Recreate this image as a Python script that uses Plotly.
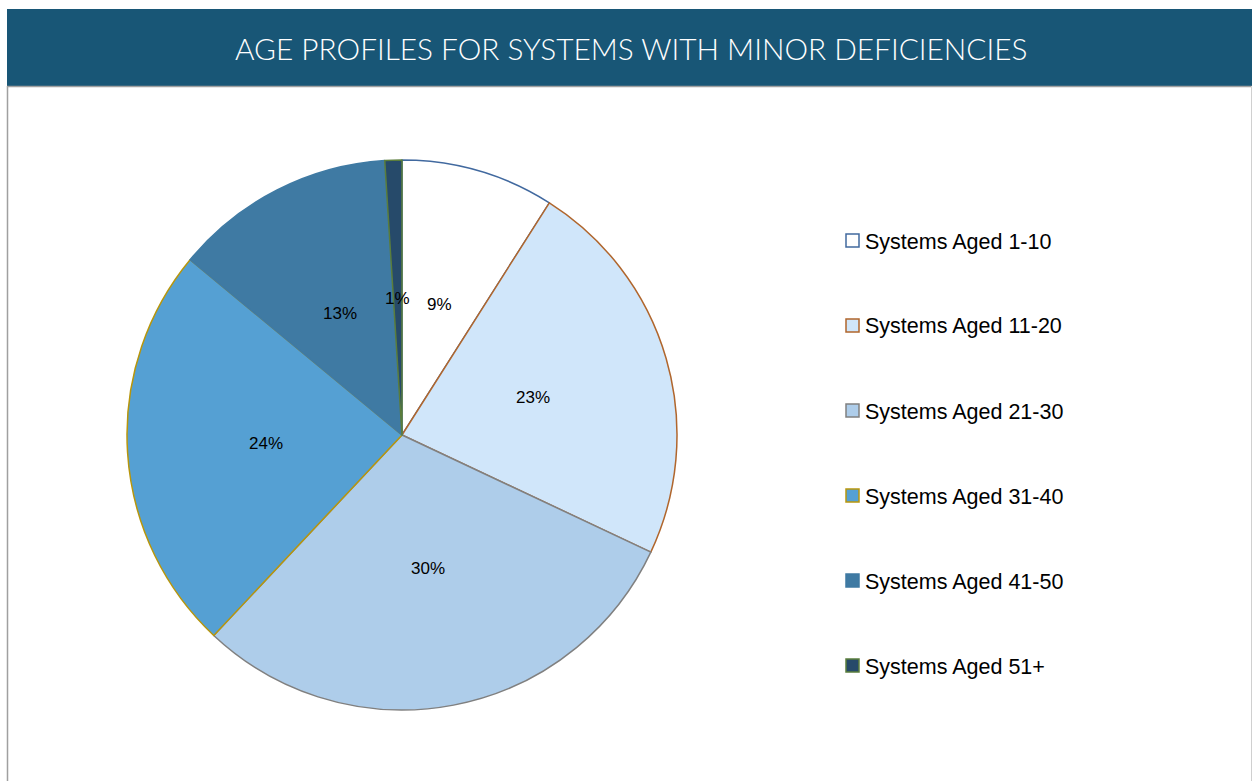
import math
import plotly.graph_objects as go

W, H = 1252, 781

# Data
categories = ["Systems Aged 1-10", "Systems Aged 11-20", "Systems Aged 21-30",
              "Systems Aged 31-40", "Systems Aged 41-50", "Systems Aged 51+"]
values = [9, 23, 30, 24, 13, 1]

# Styling
fill_colors = ["#ffffff", "#d0e6fa", "#aecdea", "#55a0d3", "#3f7aa3", "#264a6a"]
edge_colors = ["#41699f", "#b0662d", "#808080", "#b8960c", "#3f7aa3", "#5a7d3c"]

TITLE = "AGE PROFILES FOR SYSTEMS WITH MINOR DEFICIENCIES"

# Pie geometry in pixels
cx, cy, R = 402, 435, 275


def px_x(x):
    return x / W


def px_y(y):
    return 1 - y / H


fig = go.Figure()
fig.add_trace(go.Pie(
    labels=categories,
    values=values,
    sort=False,
    direction="clockwise",
    rotation=0,
    textinfo="none",
    hoverinfo="label+percent",
    marker=dict(colors=fill_colors, line=dict(color=edge_colors, width=1.5)),
    domain=dict(x=[px_x(cx - R), px_x(cx + R)], y=[px_y(cy + R), px_y(cy - R)]),
    showlegend=False,
))

annotations = []
shapes = []

# Percentage labels at the middle of each slice
total = sum(values)
cum = 0
for v in values:
    mid = (cum + v / 2) / total * 2 * math.pi
    cum += v
    r = 0.495 * R
    lx = cx + r * math.sin(mid)
    ly = cy - r * math.cos(mid)
    annotations.append(dict(
        x=px_x(lx), y=px_y(ly), xref="paper", yref="paper",
        text=f"{round(v / total * 100)}%", showarrow=False,
        font=dict(family="Liberation Sans, Arial, sans-serif", size=17, color="#000000"),
        xanchor="center", yanchor="middle",
    ))

# Legend drawn as swatches and labels
leg_x, leg_y0, leg_step, sw = 846, 240.5, 85, 13
for i, name in enumerate(categories):
    yc = leg_y0 + i * leg_step
    shapes.append(dict(
        type="rect", xref="paper", yref="paper",
        x0=px_x(leg_x), x1=px_x(leg_x + sw),
        y0=px_y(yc + sw / 2), y1=px_y(yc - sw / 2),
        fillcolor=fill_colors[i], line=dict(color=edge_colors[i], width=1.5),
    ))
    annotations.append(dict(
        x=px_x(leg_x + sw + 4), y=px_y(yc + 1), xref="paper", yref="paper",
        text=name, showarrow=False, xanchor="left", yanchor="middle",
        font=dict(family="Liberation Sans, Arial, sans-serif", size=21.5, color="#000000"),
    ))

# Title banner and frame
shapes.append(dict(type="rect", xref="paper", yref="paper",
                   x0=px_x(7), x1=1, y0=px_y(86), y1=px_y(9),
                   fillcolor="#185676", line=dict(width=0), layer="below"))
shapes.append(dict(type="line", xref="paper", yref="paper",
                   x0=px_x(7), x1=1, y0=px_y(86.5), y1=px_y(86.5),
                   line=dict(color="#a0a0a0", width=1.5)))
shapes.append(dict(type="line", xref="paper", yref="paper",
                   x0=px_x(7.5), x1=px_x(7.5), y0=0, y1=px_y(86),
                   line=dict(color="#a0a0a0", width=1.5)))
shapes.append(dict(type="line", xref="paper", yref="paper",
                   x0=px_x(1251.5), x1=px_x(1251.5), y0=0, y1=px_y(86),
                   line=dict(color="#d0d0d0", width=1)))

annotations.append(dict(
    x=px_x(631), y=px_y(49), xref="paper", yref="paper",
    text=TITLE, showarrow=False, xanchor="center", yanchor="middle",
    font=dict(family="Lato, Open Sans, sans-serif", size=29.8, color="#ffffff", weight=300),
))

fig.update_layout(
    width=W, height=H,
    margin=dict(l=0, r=0, t=0, b=0),
    paper_bgcolor="#ffffff",
    plot_bgcolor="#ffffff",
    shapes=shapes,
    annotations=annotations,
)

fig.write_html("out.html")
